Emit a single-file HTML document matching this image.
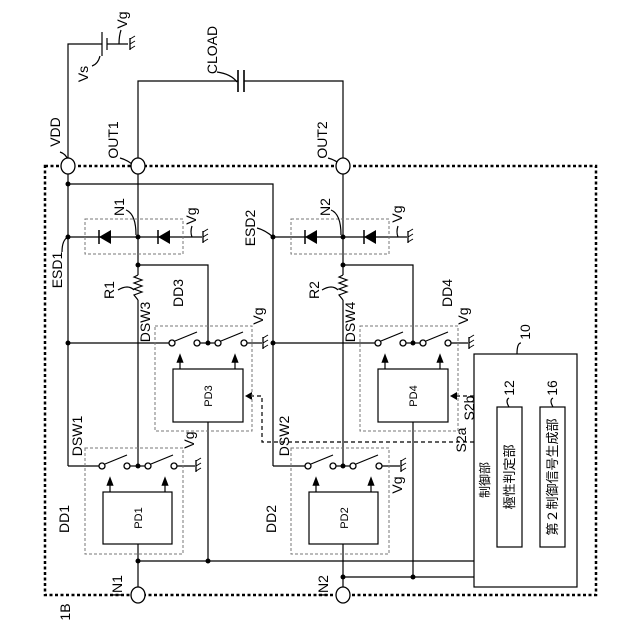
<!DOCTYPE html>
<html><head><meta charset="utf-8"><style>html,body{margin:0;padding:0;background:#fff}svg{display:block}</style></head>
<body>
<svg width="640" height="640" viewBox="0 0 640 640" xmlns="http://www.w3.org/2000/svg" font-family="Liberation Sans, Noto Sans CJK JP, sans-serif" font-size="14">
<defs>
<g id="gnd"><line x1="0" y1="-6" x2="0" y2="6" stroke="#000" stroke-width="1.3"/><line x1="0" y1="-5" x2="5" y2="-8" stroke="#000"/><line x1="0" y1="0" x2="5" y2="-3" stroke="#000"/><line x1="0" y1="5" x2="5" y2="2" stroke="#000"/></g>
<g id="dio"><polygon points="-6,0 6,-7 6,7" fill="#000"/><line x1="-6" y1="-7" x2="-6" y2="7" stroke="#000" stroke-width="1.5"/></g>
<marker id="ar" markerWidth="8" markerHeight="8" refX="4" refY="4" orient="auto"><polygon points="0,1 8,4 0,7" fill="#000"/></marker>
</defs>
<g stroke="#000" stroke-width="1.2" fill="none">
<rect x="45" y="166" width="551" height="429" stroke-width="2.5" stroke-dasharray="3,2.5"/>
<polyline points="68,160 68,44 102,44"/>
<line x1="102" y1="32" x2="102" y2="56"/>
<line x1="107" y1="38" x2="107" y2="50"/>
<line x1="107" y1="44" x2="128" y2="44"/>
<polyline points="138,160 138,81 238,81"/>
<polyline points="244,81 343,81 343,160"/>
<line x1="238" y1="70" x2="238" y2="92" stroke-width="1.6"/>
<line x1="244" y1="70" x2="244" y2="92" stroke-width="1.6"/>
<line x1="68" y1="171" x2="68" y2="466"/>
<polyline points="68,184 273,184 273,466"/>
<line x1="138" y1="171" x2="138" y2="275"/>
<line x1="138" y1="300" x2="138" y2="466"/>
<line x1="343" y1="171" x2="343" y2="275"/>
<line x1="343" y1="300" x2="343" y2="466"/>
<polyline points="138,265 208,265 208,343"/>
<polyline points="343,265 413,265 413,343"/>
<line x1="68" y1="237" x2="202" y2="237"/>
<line x1="273" y1="237" x2="407" y2="237"/>
<polyline points="138,275 134,277 142,280 134,283 142,286 134,289 142,292 134,295 138,300"/>
<polyline points="343,275 339,277 347,280 339,283 347,286 339,289 347,292 339,295 343,300"/>
<line x1="68" y1="343" x2="169" y2="343"/><line x1="200" y1="343" x2="215" y2="343"/><line x1="247" y1="343" x2="262" y2="343"/>
<line x1="273" y1="343" x2="375" y2="343"/><line x1="406" y1="343" x2="420" y2="343"/><line x1="451" y1="343" x2="468" y2="343"/>
<line x1="68" y1="466" x2="99" y2="466"/><line x1="130" y1="466" x2="145" y2="466"/><line x1="177" y1="466" x2="195" y2="466"/>
<line x1="273" y1="466" x2="305" y2="466"/><line x1="336" y1="466" x2="350" y2="466"/><line x1="382" y1="466" x2="400" y2="466"/>
<line x1="175" y1="341" x2="197" y2="332"/><line x1="221" y1="341" x2="243" y2="332"/>
<line x1="381" y1="341" x2="403" y2="332"/><line x1="426" y1="341" x2="448" y2="332"/>
<line x1="105" y1="464" x2="127" y2="455"/><line x1="151" y1="464" x2="173" y2="455"/>
<line x1="311" y1="464" x2="333" y2="455"/><line x1="356" y1="464" x2="378" y2="455"/>
<rect x="173" y="369" width="70" height="53"/>
<rect x="378" y="369" width="70" height="53"/>
<rect x="103" y="492" width="69" height="52"/>
<rect x="309" y="492" width="69" height="52"/>
<g marker-end="url(#ar)">
<line x1="180" y1="369" x2="180" y2="358"/><line x1="235" y1="369" x2="235" y2="358"/>
<line x1="385" y1="369" x2="385" y2="358"/><line x1="440" y1="369" x2="440" y2="358"/>
<line x1="110" y1="492" x2="110" y2="481"/><line x1="165" y1="492" x2="165" y2="481"/>
<line x1="316" y1="492" x2="316" y2="481"/><line x1="371" y1="492" x2="371" y2="481"/>
</g>
<line x1="208" y1="422" x2="208" y2="561"/>
<line x1="413" y1="422" x2="413" y2="577"/>
<line x1="138" y1="544" x2="138" y2="589"/>
<line x1="343" y1="544" x2="343" y2="589"/>
<line x1="138" y1="561" x2="474" y2="561"/>
<line x1="343" y1="577" x2="474" y2="577"/>
<rect x="474" y="354" width="103" height="233"/>
<rect x="497" y="407" width="25" height="140"/>
<rect x="540" y="407" width="25" height="140"/>
<g stroke-dasharray="4,3">
<polyline points="474,442 262,442 262,396 250,396"/>
<line x1="474" y1="396" x2="455" y2="396"/>
</g>
<polygon points="245,396 252,392 252,400" fill="#000" stroke="none"/>
<polygon points="450,396 457,392 457,400" fill="#000" stroke="none"/>
<g stroke="#777" stroke-width="1" stroke-dasharray="3,2">
<rect x="85" y="219" width="98" height="35"/>
<rect x="291" y="219" width="98" height="35"/>
<rect x="155" y="326" width="97" height="105"/>
<rect x="360" y="326" width="98" height="105"/>
<rect x="85" y="448" width="98" height="106"/>
<rect x="291" y="448" width="98" height="106"/>
</g>
<path d="M92,66 q6,-2 8,-10"/><path d="M121,30 q-2,6 -2,14"/>
<path d="M217,72 q14,2 20,10"/>
<path d="M60,152 q6,2 8,8"/><path d="M120,158 q8,2 14,8"/><path d="M328,158 q8,2 14,8"/>
<path d="M62,252 q0,-12 6,-15"/><path d="M126,210 q10,4 10,25"/><path d="M257,228 q8,2 16,9"/>
<path d="M331,210 q10,4 10,25"/><path d="M192,226 q-2,6 0,11"/><path d="M398,226 q-2,6 0,11"/>
<path d="M118,290 q10,-6 16,0"/><path d="M322,290 q10,-6 16,0"/>
<path d="M521,343 q-4,0 -4,11"/><path d="M509,398 q-4,2 0,9"/><path d="M553,398 q-4,2 0,9"/>
</g>
<use href="#gnd" x="130" y="44"/>
<use href="#gnd" x="203" y="237"/><use href="#gnd" x="408" y="237"/>
<use href="#gnd" x="263" y="343"/><use href="#gnd" x="469" y="343"/>
<use href="#gnd" x="196" y="466"/><use href="#gnd" x="401" y="466"/>
<use href="#dio" x="105" y="237"/><use href="#dio" x="164" y="237"/>
<use href="#dio" x="311" y="237"/><use href="#dio" x="370" y="237"/>
<g fill="#fff" stroke="#000" stroke-width="1.3">
<ellipse cx="68" cy="166" rx="7" ry="8"/><ellipse cx="138" cy="166" rx="7" ry="8"/><ellipse cx="343" cy="166" rx="7" ry="8"/>
<ellipse cx="138" cy="595" rx="7" ry="8"/><ellipse cx="343" cy="595" rx="7" ry="8"/>
<circle cx="172" cy="343" r="3"/><circle cx="197" cy="343" r="3"/><circle cx="218" cy="343" r="3"/><circle cx="244" cy="343" r="3"/>
<circle cx="378" cy="343" r="3"/><circle cx="403" cy="343" r="3"/><circle cx="423" cy="343" r="3"/><circle cx="448" cy="343" r="3"/>
<circle cx="102" cy="466" r="3"/><circle cx="127" cy="466" r="3"/><circle cx="148" cy="466" r="3"/><circle cx="174" cy="466" r="3"/>
<circle cx="308" cy="466" r="3"/><circle cx="333" cy="466" r="3"/><circle cx="353" cy="466" r="3"/><circle cx="379" cy="466" r="3"/>
</g>
<g fill="#000">
<circle cx="68" cy="184" r="2.5"/><circle cx="68" cy="237" r="2.5"/><circle cx="138" cy="237" r="2.5"/><circle cx="273" cy="237" r="2.5"/><circle cx="343" cy="237" r="2.5"/>
<circle cx="138" cy="265" r="2.5"/><circle cx="343" cy="265" r="2.5"/>
<circle cx="68" cy="343" r="2.5"/><circle cx="208" cy="343" r="2.5"/><circle cx="273" cy="343" r="2.5"/><circle cx="413" cy="343" r="2.5"/>
<circle cx="138" cy="466" r="2.5"/><circle cx="343" cy="466" r="2.5"/>
<circle cx="138" cy="561" r="2.5"/><circle cx="208" cy="561" r="2.5"/><circle cx="343" cy="577" r="2.5"/><circle cx="413" cy="577" r="2.5"/>
</g>
<g text-anchor="middle" fill="#000">
<text transform="translate(127,20) rotate(-90)">Vg</text>
<text transform="translate(88,74) rotate(-90)">Vs</text>
<text transform="translate(217,50) rotate(-90)">CLOAD</text>
<text transform="translate(60,132) rotate(-90)">VDD</text>
<text transform="translate(118,140) rotate(-90)">OUT1</text>
<text transform="translate(327,140) rotate(-90)">OUT2</text>
<text transform="translate(62,270) rotate(-90)">ESD1</text>
<text transform="translate(124,207) rotate(-90)">N1</text>
<text transform="translate(196,216) rotate(-90)">Vg</text>
<text transform="translate(255,228) rotate(-90)">ESD2</text>
<text transform="translate(330,207) rotate(-90)">N2</text>
<text transform="translate(402,214) rotate(-90)">Vg</text>
<text transform="translate(114,290) rotate(-90)">R1</text>
<text transform="translate(150,322) rotate(-90)">DSW3</text>
<text transform="translate(183,293) rotate(-90)">DD3</text>
<text transform="translate(263,316) rotate(-90)">Vg</text>
<text transform="translate(319,290) rotate(-90)">R2</text>
<text transform="translate(355,322) rotate(-90)">DSW4</text>
<text transform="translate(452,293) rotate(-90)">DD4</text>
<text transform="translate(468,316) rotate(-90)">Vg</text>
<text transform="translate(82,436) rotate(-90)">DSW1</text>
<text transform="translate(194,440) rotate(-90)">Vg</text>
<text transform="translate(69,519) rotate(-90)">DD1</text>
<text transform="translate(289,436) rotate(-90)">DSW2</text>
<text transform="translate(402,485) rotate(-90)">Vg</text>
<text transform="translate(276,519) rotate(-90)">DD2</text>
<text transform="translate(122,586) rotate(-90)">IN1</text>
<text transform="translate(328,586) rotate(-90)">IN2</text>
<text transform="translate(70,612) rotate(-90)">1B</text>
<text transform="translate(466,440) rotate(-90)">S2a</text>
<text transform="translate(474,408) rotate(-90)">S2b</text>
<text transform="translate(530,332) rotate(-90)">10</text>
<text transform="translate(514,388) rotate(-90)">12</text>
<text transform="translate(557,388) rotate(-90)">16</text>
<text transform="translate(212,396) rotate(-90)" font-size="11">PD3</text>
<text transform="translate(417,396) rotate(-90)" font-size="11">PD4</text>
<text transform="translate(142,518) rotate(-90)" font-size="11">PD1</text>
<text transform="translate(348,518) rotate(-90)" font-size="11">PD2</text>
<text transform="translate(489,480) rotate(-90)" font-size="12">制御部</text>
<text transform="translate(514,477) rotate(-90)" font-size="13">極性判定部</text>
<text transform="translate(557,477) rotate(-90)" font-size="13">第２制御信号生成部</text>
</g>
</svg>
</body></html>
